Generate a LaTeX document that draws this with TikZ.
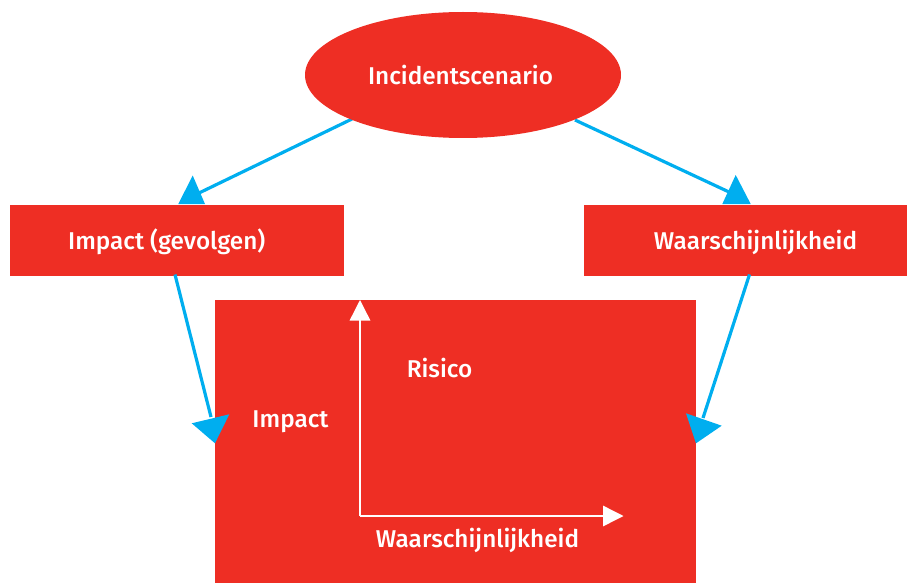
\documentclass[tikz,border=0pt]{standalone}
\usepackage{fontspec}
\setmainfont{Fira Sans}[UprightFont={* Medium}]
\usetikzlibrary{arrows.meta,shapes.geometric}
\definecolor{rred}{RGB}{238,46,36}
\definecolor{rblue}{RGB}{0,174,239}
\tikzset{
  redbox/.style={fill=rred, draw=none, inner sep=0pt, outer sep=0pt},
  lab/.style={text=white, font=\fontsize{24.3}{28}\selectfont, inner sep=0pt, anchor=base},
  conn/.style={draw=rblue, line width=3.2pt},
  headfill/.style={fill=rblue, draw=none},
  axis/.style={draw=white, line width=1.4pt, -{Triangle[length=20.5pt,width=20.5pt]}}
}
\begin{document}
\begin{tikzpicture}[x=1pt,y=-1pt]
\useasboundingbox (0,0) rectangle (907,583);
% arrowhead points
\coordinate (t1) at (199,193);
\coordinate (t2) at (729,192);
\coordinate (t3) at (211,417);
\coordinate (t4) at (703,418);
% connectors (drawn beneath the shapes)
\coordinate (ellc) at (463,75);
\draw[conn] ([xshift=-111pt,yshift=-44pt]ellc) -- (t1);
\draw[conn] ([xshift=112pt,yshift=-45pt]ellc) -- (t2);
% shapes
\node[redbox, ellipse, minimum width=316pt, minimum height=126pt] (ell) at (ellc) {};
\node[redbox, minimum width=334pt, minimum height=71pt, anchor=north west] (lbox) at (10,204.5) {};
\node[redbox, minimum width=323pt, minimum height=71pt, anchor=north west] (rbox) at (584,204.5) {};
\node[redbox, minimum width=481pt, minimum height=283pt, anchor=north west] (big) at (215,300) {};
\draw[conn] ([xshift=-2pt,yshift=1pt]lbox.south) -- (t3);
\draw[conn] ([xshift=4pt,yshift=1pt]rbox.south) -- (t4);
% arrowheads
\fill[headfill] (192.7,175.5) -- (178.3,204) -- (205,204) -- cycle;
\fill[headfill] (735.7,175) -- (722.3,204) -- (750.7,204) -- cycle;
\fill[headfill] (191.7,423.3) -- (229.3,414.3) -- (215,443.3) -- cycle;
\fill[headfill] (686,413.3) -- (721.7,425.7) -- (696,443.3) -- cycle;
% axes
\coordinate (o) at (360,516);
\coordinate (ytip) at (360,300);
\coordinate (xtip) at (623.5,516);
\draw[axis] (o) -- (ytip);
\draw[axis] (o) -- (xtip);
% texts
\node[lab] (tinc) at (460.5,85) {Incidentscenario};
\node[lab] (timp) at (166.7,249) {Impact (gevolgen)};
\node[lab] (twaar) at (755.5,249) {Waarschijnlijkheid};
\node[lab] (tris) at (439.5,377) {Risico};
\node[lab] (timp2) at (290.5,427) {Impact};
\node[lab] (twaar2) at (477.5,547) {Waarschijnlijkheid};
\end{tikzpicture}
\end{document}
